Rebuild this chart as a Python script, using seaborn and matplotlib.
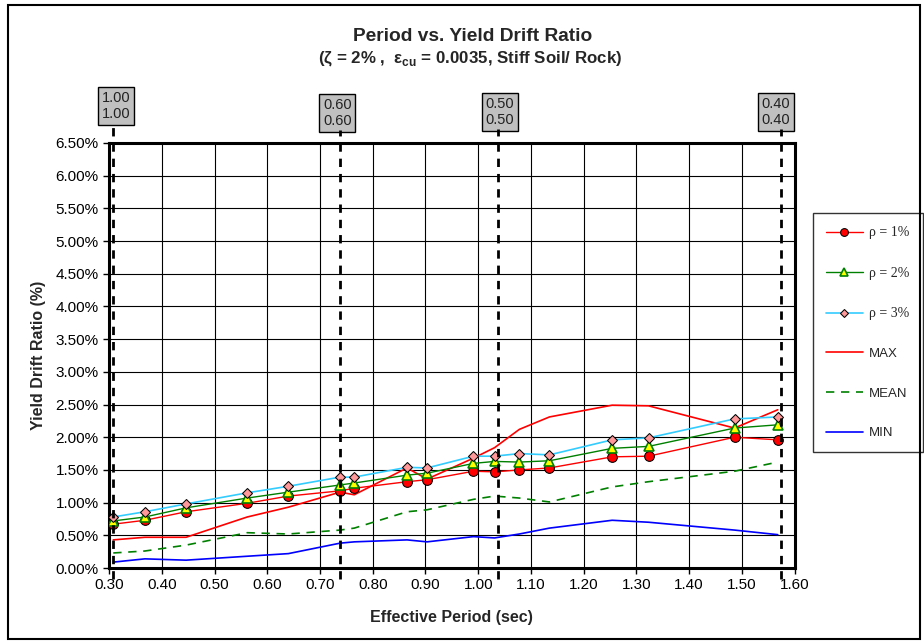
import matplotlib
matplotlib.use("Agg")
import matplotlib.pyplot as plt
import seaborn as sns
from matplotlib.patches import Rectangle
from matplotlib.ticker import FuncFormatter, MultipleLocator

# data (drift ratio in %)
period = [0.308, 0.368, 0.446, 0.562, 0.640, 0.738, 0.765, 0.865, 0.903,
          0.991, 1.031, 1.078, 1.135, 1.254, 1.323, 1.486, 1.568]
rho1 = [0.67, 0.73, 0.86, 0.99, 1.10, 1.18, 1.22, 1.32, 1.35,
        1.48, 1.47, 1.50, 1.53, 1.70, 1.71, 2.00, 1.96]
rho2 = [0.72, 0.78, 0.92, 1.07, 1.16, 1.27, 1.30, 1.42, 1.45,
        1.60, 1.63, 1.62, 1.64, 1.83, 1.86, 2.14, 2.19]
rho3 = [0.78, 0.86, 0.98, 1.15, 1.25, 1.39, 1.39, 1.54, 1.53,
        1.71, 1.71, 1.75, 1.73, 1.96, 1.99, 2.28, 2.31]
max_vals = [0.43, 0.47, 0.47, 0.78, 0.93, 1.16, 1.12, 1.53, 1.36,
            1.68, 1.84, 2.12, 2.31, 2.49, 2.48, 2.14, 2.42]
mean_vals = [0.23, 0.26, 0.35, 0.54, 0.52, 0.58, 0.61, 0.86, 0.89,
             1.05, 1.10, 1.07, 1.01, 1.24, 1.32, 1.48, 1.62]
min_vals = [0.09, 0.14, 0.12, 0.18, 0.22, 0.38, 0.40, 0.43, 0.40,
            0.48, 0.46, 0.52, 0.61, 0.73, 0.70, 0.58, 0.51]

# vertical reference lines and their boxed labels
ref_x = [0.308, 0.738, 1.038, 1.575]
ref_labels = ["1.00\n1.00", "0.60\n0.60", "0.50\n0.50", "0.40\n0.40"]
ref_box_x = [0.313, 0.733, 1.041, 1.565]
ref_box_y = [1.087, 1.071, 1.073, 1.073]

sns.set_style("white")
plt.rcParams['font.family'] = ['Liberation Sans', 'DejaVu Sans']
plt.rcParams['mathtext.fontset'] = 'custom'
plt.rcParams['mathtext.rm'] = 'Liberation Sans:bold'
plt.rcParams['mathtext.bf'] = 'Liberation Sans:bold'

fig = plt.figure(figsize=(9.24, 6.44), dpi=100)
ax = fig.add_axes([0.118, 0.118, 0.742, 0.660])

# series
sns.lineplot(x=period, y=rho1, ax=ax, color="#FF0000", lw=1, marker="o",
             markersize=7, markerfacecolor="#FF0000", markeredgecolor="black",
             label="ρ = 1%", zorder=5)
sns.lineplot(x=period, y=rho2, ax=ax, color="#008000", lw=1, marker="^",
             markersize=6.5, markerfacecolor="#FFFF00", markeredgecolor="#008000",
             markeredgewidth=1.2, label="ρ = 2%", zorder=5)
sns.lineplot(x=period, y=rho3, ax=ax, color="#33CCFF", lw=1.2, marker="D",
             markersize=5, markerfacecolor="#FF9999", markeredgecolor="black",
             label="ρ = 3%", zorder=5)
sns.lineplot(x=period, y=max_vals, ax=ax, color="#FF0000", lw=1.2, label="MAX", zorder=4)
sns.lineplot(x=period, y=mean_vals, ax=ax, color="#008000", lw=1.2, linestyle=(0, (5, 4)),
             label="MEAN", zorder=4)
sns.lineplot(x=period, y=min_vals, ax=ax, color="#0000FF", lw=1.2, label="MIN", zorder=4)

ax.set_xlim(0.3, 1.6)
ax.set_ylim(0, 6.5)
ax.xaxis.set_major_locator(MultipleLocator(0.1))
ax.yaxis.set_major_locator(MultipleLocator(0.5))
ax.xaxis.set_major_formatter(FuncFormatter(lambda v, p: f"{v:.2f}"))
ax.yaxis.set_major_formatter(FuncFormatter(lambda v, p: f"{v:.2f}%"))
ax.grid(True, color="black", lw=0.8)
ax.tick_params(axis="both", direction="out", length=4, width=1, labelsize=11,
               colors="black", bottom=True, left=True)
for s in ax.spines.values():
    s.set_color("black")
    s.set_linewidth(2.2)

ax.set_xlabel("Effective Period (sec)", fontsize=11.5, fontweight="bold", labelpad=13)
ax.set_ylabel("Yield Drift Ratio (%)", fontsize=11.5, fontweight="bold", labelpad=7)

# dashed reference lines with gray label boxes
trans = ax.get_xaxis_transform()
for xv, lab, bx, by in zip(ref_x, ref_labels, ref_box_x, ref_box_y):
    ax.plot([xv, xv], [-0.025, by - 0.04], transform=trans, color="black", lw=2,
            linestyle=(0, (3, 2.5)), clip_on=False, zorder=6)
    ax.text(bx, by, lab, transform=trans, ha="center", va="center", fontsize=10.5,
            color="#222222", linespacing=1.2,
            bbox=dict(boxstyle="square,pad=0.25", facecolor="#C0C0C0", edgecolor="black", lw=1))

# titles
fig.text(0.511, 0.944, "Period vs. Yield Drift Ratio", ha="center", va="center",
         fontsize=13.8, fontweight="bold")
fig.text(0.509, 0.909, r"(ζ = 2% ,  ε$_{\mathbf{cu}}$ = 0.0035, Stiff Soil/ Rock)",
         ha="center", va="center", fontsize=12.2, fontweight="bold")

# legend
leg = ax.legend(loc="upper left", bbox_to_anchor=(0.880, 0.669), bbox_transform=fig.transFigure,
                frameon=True, fancybox=False, edgecolor="black", fontsize=9.5,
                labelspacing=2.08, handlelength=2.75, borderpad=1.0, handletextpad=0.5,
                borderaxespad=0)
leg.get_frame().set_linewidth(1)
for t in leg.get_texts()[:3]:
    t.set_fontfamily("Liberation Serif")
    t.set_fontsize(10)
for h in leg.legend_handles[:3]:
    h.set_markersize(h.get_markersize() * 0.8)

# outer chart border
fig.patches.append(Rectangle((0.009, 0.008), 0.987, 0.984, transform=fig.transFigure,
                             fill=False, edgecolor="black", lw=1.5))

fig.savefig("out.png", dpi=100)
